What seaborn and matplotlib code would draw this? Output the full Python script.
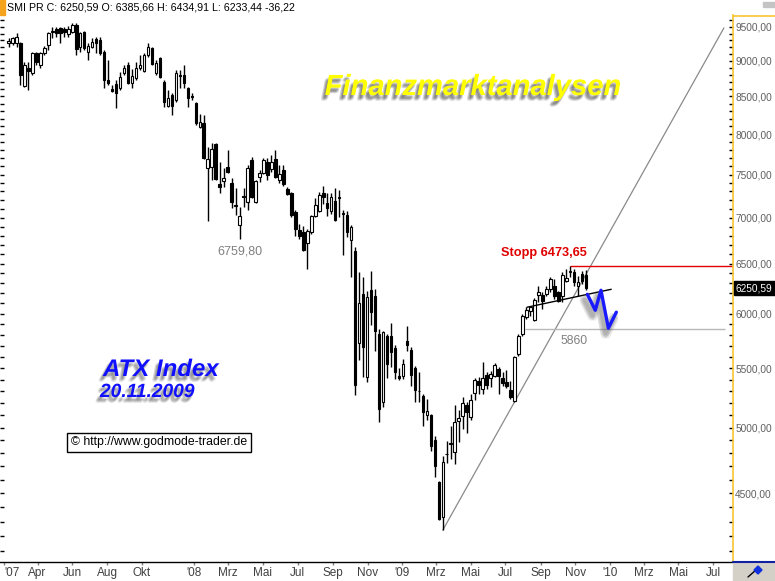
import numpy as np
import pandas as pd

import matplotlib
matplotlib.use('Agg')
import matplotlib.pyplot as plt
import matplotlib.dates as mdates
import matplotlib.patheffects as pe
from matplotlib.patches import Rectangle, Polygon
from matplotlib.lines import Line2D
from matplotlib.ticker import FixedLocator, FixedFormatter, NullFormatter
from matplotlib.transforms import blended_transform_factory
import seaborn as sns

W, H = 775, 581

# weekly candles, one per Friday
weeks = pd.date_range('2007-02-09', periods=146, freq='7D')

opens = [9260, 9260, 9260, 9260, 8644, 8900, 8826, 9113, 8940, 9113,
         9230, 9424, 9470, 9485, 9470, 9394, 9424, 9530, 9201, 9424,
         9128, 9201, 9320, 9304, 9128, 8728, 8600, 8672, 8617, 8826,
         8940, 8686, 8756, 8897, 8855, 9084, 9186, 8826, 9040, 8700,
         8372, 8521, 8453, 8798, 8798, 8617, 8507, 8412, 8096, 8148,
         7583, 7595, 7879, 7391, 7426, 7595, 7402, 7140, 6912, 7245,
         7182, 7680, 7182, 7474, 7522, 7655, 7570, 7692, 7438, 7558,
         7332, 7285, 7057, 6857, 6836, 6716, 6836, 7012, 7079, 7285,
         7170, 7079, 7193, 7235, 7050, 7034, 6749, 6631, 5724, 6190,
         5421, 6230, 6171, 5807, 5209, 5788, 5788, 5679, 5430, 5430,
         5743, 5661, 5500, 5305, 5259, 5102, 5102, 4901, 4584, 4331,
         4790, 4870, 4808, 5053, 5094, 5184, 5086, 5284, 5387, 5318,
         5439, 5413, 5430, 5491, 5413, 5378, 5310, 5217, 5625, 5807,
         5967, 6024, 5939, 6180, 6180, 6190, 6240, 6270, 6210, 6171,
         6320, 6411, 6411, 6270, 6391, 6385.66]
highs = [9335, 9350, 9409, 9275, 8983, 8983, 9128, 9128, 9128, 9215,
         9424, 9500, 9500, 9500, 9500, 9515, 9560, 9560, 9424, 9440,
         9260, 9335, 9350, 9350, 9157, 9011, 8658, 8728, 8840, 8940,
         8983, 8883, 8983, 9084, 9113, 9260, 9201, 9011, 9055, 8728,
         8589, 8548, 8869, 8869, 8940, 8630, 8548, 8426, 8266, 8252,
         7841, 7891, 7891, 7655, 7583, 7804, 7462, 7344, 7125, 7344,
         7619, 7717, 7438, 7558, 7704, 7704, 7742, 7804, 7619, 7619,
         7355, 7297, 7091, 6923, 6901, 6868, 7034, 7228, 7297, 7367,
         7285, 7285, 7344, 7320, 7091, 7079, 6912, 6673, 6411, 6360,
         6220, 6421, 6240, 5854, 5835, 5807, 5910, 5706, 5500, 5580,
         5882, 5688, 5517, 5465, 5276, 5234, 5110, 4933, 4590, 4778,
         4893, 5013, 5184, 5143, 5251, 5209, 5276, 5413, 5421, 5553,
         5465, 5474, 5544, 5509, 5465, 5483, 5387, 5607, 5807, 5996,
         6063, 6073, 6151, 6270, 6210, 6270, 6360, 6340, 6220, 6411,
         6442, 6474, 6442, 6370, 6421, 6434.91]
lows = [9201, 9230, 9201, 8658, 8630, 8589, 8798, 8940, 8897, 9084,
        9157, 9335, 9350, 9260, 9350, 9350, 9409, 9084, 9128, 9157,
        9011, 9186, 9113, 9084, 8617, 8658, 8562, 8345, 8589, 8798,
        8672, 8617, 8728, 8869, 8840, 9055, 8940, 8798, 8756, 8358,
        8358, 8252, 8426, 8617, 8617, 8358, 8453, 8122, 8083, 7690,
        6956, 7438, 7438, 7285, 7355, 7522, 7113, 7034, 6760, 7125,
        7091, 7228, 7170, 7414, 7510, 7438, 7534, 7462, 7402, 7367,
        7262, 7001, 6792, 6759, 6631, 6442, 6814, 7001, 7057, 7159,
        7012, 7045, 6956, 7001, 6588, 6781, 6360, 5267, 5571, 5421,
        5378, 5891, 5652, 5045, 5167, 5413, 5509, 5404, 5395, 5404,
        5652, 5344, 5209, 5209, 5013, 5061, 4816, 4620, 4310, 4242,
        4725, 4755, 4717, 4885, 4989, 4957, 5061, 5226, 5276, 5276,
        5318, 5336, 5421, 5276, 5344, 5327, 5234, 5209, 5607, 5788,
        5948, 5977, 5929, 6112, 6044, 6171, 6210, 6141, 6112, 6112,
        6310, 6360, 6270, 6171, 6290, 6233.44]
closes = [9290, 9335, 9350, 8798, 8940, 8850, 9113, 8983, 9113, 9186,
          9409, 9440, 9409, 9409, 9424, 9470, 9530, 9172, 9409, 9186,
          9215, 9275, 9260, 9113, 8728, 8686, 8575, 8548, 8770, 8897,
          8686, 8784, 8897, 8940, 9084, 9201, 8954, 8968, 8770, 8426,
          8480, 8372, 8826, 8784, 8686, 8480, 8494, 8148, 8161, 7704,
          7692, 7816, 7450, 7355, 7462, 7534, 7182, 7130, 7012, 7235,
          7583, 7239, 7426, 7522, 7680, 7498, 7655, 7474, 7510, 7391,
          7274, 7034, 6868, 6792, 6641, 6847, 7023, 7147, 7262, 7239,
          7113, 7239, 6978, 7225, 7040, 6836, 6890, 5353, 6102, 5688,
          6161, 6015, 5835, 5151, 5826, 5535, 5643, 5465, 5413, 5535,
          5706, 5439, 5310, 5298, 5126, 5134, 4854, 4702, 4317, 4732,
          4795, 4880, 5045, 5077, 5201, 5126, 5226, 5395, 5353, 5413,
          5353, 5448, 5526, 5430, 5370, 5344, 5251, 5598, 5788, 5977,
          6034, 6063, 6131, 6210, 6121, 6240, 6340, 6171, 6121, 6381,
          6350, 6421, 6310, 6310, 6320, 6250.59]

# analyst drawings
trend_dates = ['2009-03-13', '2010-07-20']
trend_vals = [4242, 9485]
support_dates = ['2009-08-08', '2010-01-03']
support_vals = [6063, 6240]
stop_level = 6473.65
stop_from = '2009-10-23'
target_level = 5860
target_span = ['2009-08-05', '2010-07-22']
zigzag_dates = ['2009-11-22', '2009-12-06', '2009-12-16', '2009-12-29', '2010-01-12']
zigzag_vals = [6190, 6034, 6230, 5863, 6015]

# axis labels
month_ticks = ['2007-02-01', '2007-04-01', '2007-06-01', '2007-08-01', '2007-10-01',
               '2008-01-01', '2008-03-01', '2008-05-01', '2008-07-01', '2008-09-01',
               '2008-11-01', '2009-01-01', '2009-03-01', '2009-05-01', '2009-07-01',
               '2009-09-01', '2009-11-01', '2010-01-01', '2010-03-01', '2010-05-01',
               '2010-07-01']
month_labels = ["'07", 'Apr', 'Jun', 'Aug', 'Okt', "'08", 'Mrz', 'Mai', 'Jul', 'Sep',
                'Nov', "'09", 'Mrz', 'Mai', 'Jul', 'Sep', 'Nov', "'10", 'Mrz', 'Mai', 'Jul']
price_ticks = [4500, 5000, 5500, 6000, 6500, 7000, 7500, 8000, 8500, 9000, 9500]
price_labels = ['4500,00', '5000,00', '5500,00', '6000,00', '6500,00', '7000,00',
                '7500,00', '8000,00', '8500,00', '9000,00', '9500,00']

sns.set_theme(style='white')
plt.rcParams['font.family'] = ['Liberation Sans', 'DejaVu Sans']

fig = plt.figure(figsize=(W / 100, H / 100), dpi=100)
fig.patch.set_facecolor('white')
ax = fig.add_axes([0, 19 / H, 733 / W, 547 / H])
ax.set_facecolor('white')
ax.set_yscale('log')

# candles
x = mdates.date2num(weeks)
o = np.array(opens)
c = np.array(closes)
up = c >= o
ax.vlines(x, lows, highs, color='black', lw=1, zorder=2)
ax.bar(x, np.abs(c - o), bottom=np.minimum(o, c), width=4.4,
       color=np.where(up, 'white', 'black'), edgecolor='black', linewidth=0.8, zorder=3)

# trend lines
td = mdates.date2num(pd.to_datetime(trend_dates))
sns.lineplot(x=td, y=trend_vals, color='#8a8a8a', lw=0.9, estimator=None, ax=ax, zorder=1)
sd = mdates.date2num(pd.to_datetime(support_dates))
sns.lineplot(x=sd, y=support_vals, color='black', lw=1, estimator=None, ax=ax, zorder=4)
gd = mdates.date2num(pd.to_datetime(target_span))
ax.hlines(target_level, gd[0], gd[1], color='#b8b8b8', lw=1, zorder=1)
x_right = mdates.date2num(pd.Timestamp('2010-08-05'))
ax.hlines(stop_level, mdates.date2num(pd.Timestamp(stop_from)), x_right,
          color='#e00000', lw=1, zorder=1)

zd = mdates.date2num(pd.to_datetime(zigzag_dates))
zig_fx = [pe.SimpleLineShadow(offset=(-2 + dx, -4 + dy), shadow_color='#606060',
                              alpha=0.12, linewidth=5)
          for dx, dy in [(0, 0), (-1, -1), (1, 1), (-1, 1), (1, -1)]] + [pe.Normal()]
sns.lineplot(x=zd, y=zigzag_vals, color='#1a1aff', lw=2.4, estimator=None, ax=ax,
             zorder=5, path_effects=zig_fx)

ax.set_xlim(mdates.date2num(pd.Timestamp('2007-01-25')), x_right)
ax.set_ylim(4031, 9684)

# axes styling
for s in ['left', 'top']:
    ax.spines[s].set_visible(False)
ax.spines['right'].set_color('#f7c531')
ax.spines['right'].set_linewidth(1.2)
ax.spines['bottom'].set_color('black')
ax.spines['bottom'].set_linewidth(1)

ax.xaxis.set_major_locator(FixedLocator(mdates.date2num(pd.to_datetime(month_ticks))))
ax.xaxis.set_major_formatter(FixedFormatter(month_labels))
ax.xaxis.set_minor_locator(FixedLocator([]))
ax.tick_params(axis='x', which='major', direction='out', length=2, width=1,
               color='#808080', labelsize=8.5, labelcolor='#404040', pad=1.5, bottom=True)

ax.yaxis.set_major_locator(FixedLocator(price_ticks))
ax.yaxis.set_major_formatter(FixedFormatter(price_labels))
ax.yaxis.set_minor_locator(FixedLocator(np.arange(4100, 9700, 100)))
ax.yaxis.set_minor_formatter(NullFormatter())
ax.tick_params(axis='y', which='both', left=True, right=True, labelleft=False,
               labelright=True, direction='in', length=3, width=1, color='black',
               labelsize=7.3, labelcolor='#606060', pad=1.5)
ax.grid(False)

# first year label sits flush with the left edge
fig.canvas.draw()
ax.get_xticklabels()[0].set_horizontalalignment('left')
ax.get_xticklabels()[0].set_x(mdates.date2num(pd.Timestamp('2007-01-27')))

# chart annotations
ax.text(x[58], 6631, '6759,80', color='#808080', fontsize=9, ha='center', va='center')
ax.text(x[134] + 2, 6610, 'Stopp 6473,65', color='#e00000', fontsize=9.2,
        weight='bold', ha='center', va='center')
ax.text(x[142], 5743, '5860', color='#808080', fontsize=8.7, ha='center', va='center')

trans = blended_transform_factory(ax.transAxes, ax.transData)
ax.text(1.004, closes[-1], '6250,59', transform=trans, color='white', fontsize=7.3,
        ha='left', va='center', clip_on=False,
        bbox=dict(boxstyle='square,pad=0.2', fc='black', ec='black'))


def soft_shadow(dx, dy, color='#555555'):
    fx = [pe.SimplePatchShadow(offset=(dx + a, dy + b), shadow_rgbFace=color, alpha=0.13)
          for a, b in [(0, 0), (-1, 0), (1, 0), (0, -1), (0, 1), (-1, -1), (1, 1)]]
    return fx + [pe.Normal()]


fig.text(7 / W, 1 - 8 / H, 'SMI PR C: 6250,59 O: 6385,66 H: 6434,91 L: 6233,44 -36,22',
         fontsize=7.7, color='black', ha='left', va='center')
fig.text(473 / W, 1 - 87 / H, 'Finanzmarktanalysen', fontsize=21, weight='bold',
         style='italic', color='#ffff00', ha='center', va='center',
         path_effects=soft_shadow(-2, -3, '#404040'))
fig.text(103 / W, 1 - 376 / H, 'ATX Index', fontsize=17.3, weight='bold', style='italic',
         color='#1010ff', ha='left', va='baseline', path_effects=soft_shadow(-2, -3))
fig.text(100 / W, 1 - 397 / H, '20.11.2009', fontsize=13.8, weight='bold', style='italic',
         color='#1010ff', ha='left', va='baseline', path_effects=soft_shadow(-2, -3))
fig.text(71 / W, 1 - 442.5 / H, '\u00a9 http://www.godmode-trader.de', fontsize=8.8,
         color='black', ha='left', va='center',
         bbox=dict(boxstyle='square,pad=0.3', fc='white', ec='black', lw=1))

# frame decorations
fig.patches.append(Rectangle((0, 1 - 15 / H), 5 / W, 15 / H, transform=fig.transFigure,
                             color='#f5a21c', zorder=5))
fig.lines.append(Line2D([733 / W, 1], [1 - 15.5 / H, 1 - 15.5 / H], transform=fig.transFigure,
                        color='#f7c531', lw=1.2))
fig.patches.append(Rectangle((763 / W, 1 - 7 / H), 12 / W, 5 / H, transform=fig.transFigure,
                             color='#c4c4c4', zorder=5))
fig.patches.append(Rectangle((733 / W, 0), 42 / W, 19 / H, transform=fig.transFigure,
                             color='#d4d0c8', zorder=5))
fig.lines.append(Line2D([733 / W, 1], [19 / H, 19 / H], transform=fig.transFigure,
                        color='#1020a0', lw=1.5, zorder=6))
fig.lines.append(Line2D([748 / W, 756 / W], [4 / H, 11 / H], transform=fig.transFigure,
                        color='black', lw=1, zorder=6))
fig.patches.append(Polygon([(754 / W, 11 / H), (758 / W, 15 / H), (762 / W, 11 / H),
                            (758 / W, 7 / H)], closed=True, transform=fig.transFigure,
                           color='#1030e0', zorder=6))

fig.savefig('out.png', dpi=100)
